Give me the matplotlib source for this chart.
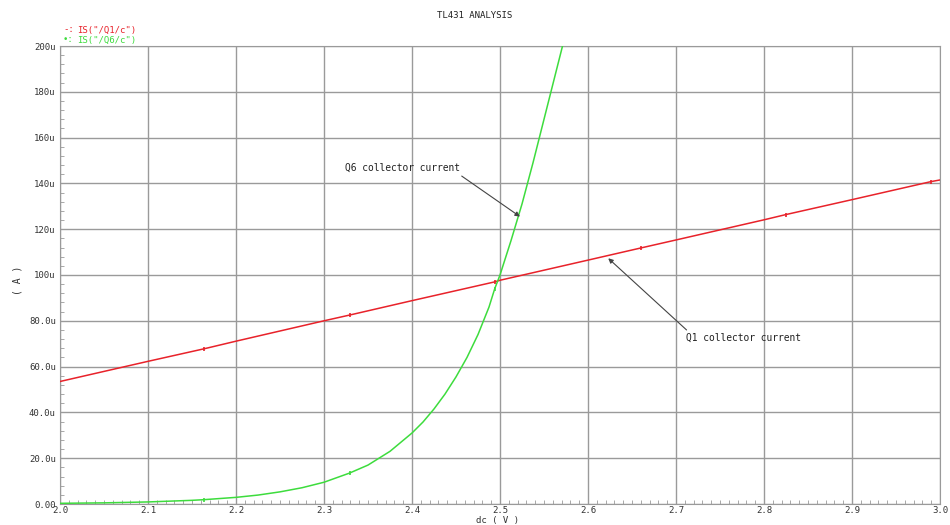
import numpy as np
import matplotlib.pyplot as plt
from matplotlib.ticker import MultipleLocator, FuncFormatter

# ========== data ==========
q1_v = [2.0, 2.1, 2.164, 2.2, 2.3, 2.329, 2.4, 2.494, 2.5, 2.6, 2.66, 2.7, 2.8, 2.825, 2.9, 2.99, 3.0]
q1_i = [53.5, 62.3, 67.8, 71.1, 80.0, 82.5, 88.8, 97.0, 97.7, 106.5, 111.8, 115.3, 124.1, 126.4, 132.9, 140.8, 141.5]
q1_marks = [2, 5, 7, 10, 13, 15]

q6_v = [2.0, 2.05, 2.1, 2.15, 2.164, 2.2, 2.225, 2.25, 2.275, 2.3, 2.329, 2.35, 2.375,
        2.4, 2.4125, 2.425, 2.4375, 2.45, 2.4625, 2.475, 2.4875, 2.494, 2.5, 2.5125,
        2.525, 2.5375, 2.55, 2.5625, 2.575]
q6_i = [0.3, 0.5, 0.9, 1.6, 1.9, 2.9, 3.9, 5.3, 7.1, 9.5, 13.5, 17.0, 23.0,
        31.0, 35.8, 41.5, 48.0, 55.5, 64.0, 74.0, 86.0, 94.0, 100.0, 115.0,
        131.0, 149.0, 168.0, 187.0, 206.0]
q6_marks = [4, 10, 21]

title = 'TL431 ANALYSIS'
legend_labels = ['IS("/Q1/c")', 'IS("/Q6/c")']

red = '#e8222a'
green = '#3ddc3d'
grid_col = '#9a9a9a'
mono = 'DejaVu Sans Mono'

# ========== plot ==========
fig = plt.figure(figsize=(9.5, 5.25), dpi=100)
ax = fig.add_axes([60 / 950, 21 / 525, 880 / 950, 458 / 525])

ax.plot(q1_v, q1_i, color=red, lw=1.1, marker='|', ms=3, mew=1.2, markevery=q1_marks, zorder=3)
ax.plot(q6_v, q6_i, color=green, lw=1.1, marker='|', ms=3, mew=1.2, markevery=q6_marks, zorder=3)

ax.set_xlim(2.0, 3.0)
ax.set_ylim(0, 200)
ax.xaxis.set_major_locator(MultipleLocator(0.1))
ax.xaxis.set_minor_locator(MultipleLocator(0.01))
ax.yaxis.set_major_locator(MultipleLocator(20))
ax.yaxis.set_minor_locator(MultipleLocator(4))


def yfmt(v, pos):
    if v == 0:
        return '0.00'
    if v < 100:
        return '%.1fu' % v
    return '%du' % v


ax.yaxis.set_major_formatter(FuncFormatter(yfmt))
ax.xaxis.set_major_formatter(FuncFormatter(lambda v, p: '%.1f' % v))

ax.grid(True, which='major', color=grid_col, lw=1.0)
ax.tick_params(which='both', direction='in', colors=grid_col, labelcolor='#333333',
               labelsize=6.5, pad=3)
ax.tick_params(axis='x', pad=1.5)
ax.tick_params(which='major', length=0)
ax.tick_params(which='minor', length=3)
for lab in ax.get_xticklabels() + ax.get_yticklabels():
    lab.set_family(mono)
for s in ax.spines.values():
    s.set_color(grid_col)

fig.text(497 / 950, 1 - 520 / 525, 'dc ( V )', fontsize=6.5, family=mono, color='#333333',
         ha='center', va='center')
fig.text(17 / 950, 1 - 280 / 525, '( A )', fontsize=7, family=mono, color='#333333',
         ha='center', va='center', rotation=90)
fig.text(475 / 950, 1 - 16 / 525, title, fontsize=6.5, family=mono,
         color='#222222', ha='center', va='center')

# legend
fig.text(63 / 950, 1 - 30 / 525, '-:', color=red, fontsize=6.5, family=mono, va='center')
fig.text(77 / 950, 1 - 30 / 525, legend_labels[0], color=red, fontsize=6.5, family=mono, va='center')
fig.text(63 / 950, 1 - 40 / 525, '•:', color=green, fontsize=6.5, family=mono, va='center')
fig.text(77 / 950, 1 - 40 / 525, legend_labels[1], color=green, fontsize=6.5, family=mono, va='center')

# annotations
arrow = dict(arrowstyle='-|>', color='#444444', lw=0.8, mutation_scale=7, shrinkA=0, shrinkB=0)
ax.text(2.324, 146.7, 'Q6 collector current', fontsize=6.9, family=mono, color='#222222', va='center')
ax.annotate('', xy=(2.5227, 125.5), xytext=(2.4565, 143.2), arrowprops=arrow)
ax.text(2.711, 72.5, 'Q1 collector current', fontsize=6.9, family=mono, color='#222222', va='center')
ax.annotate('', xy=(2.623, 107.3), xytext=(2.712, 76.0), arrowprops=arrow)

fig.savefig('out.png', dpi=100)
